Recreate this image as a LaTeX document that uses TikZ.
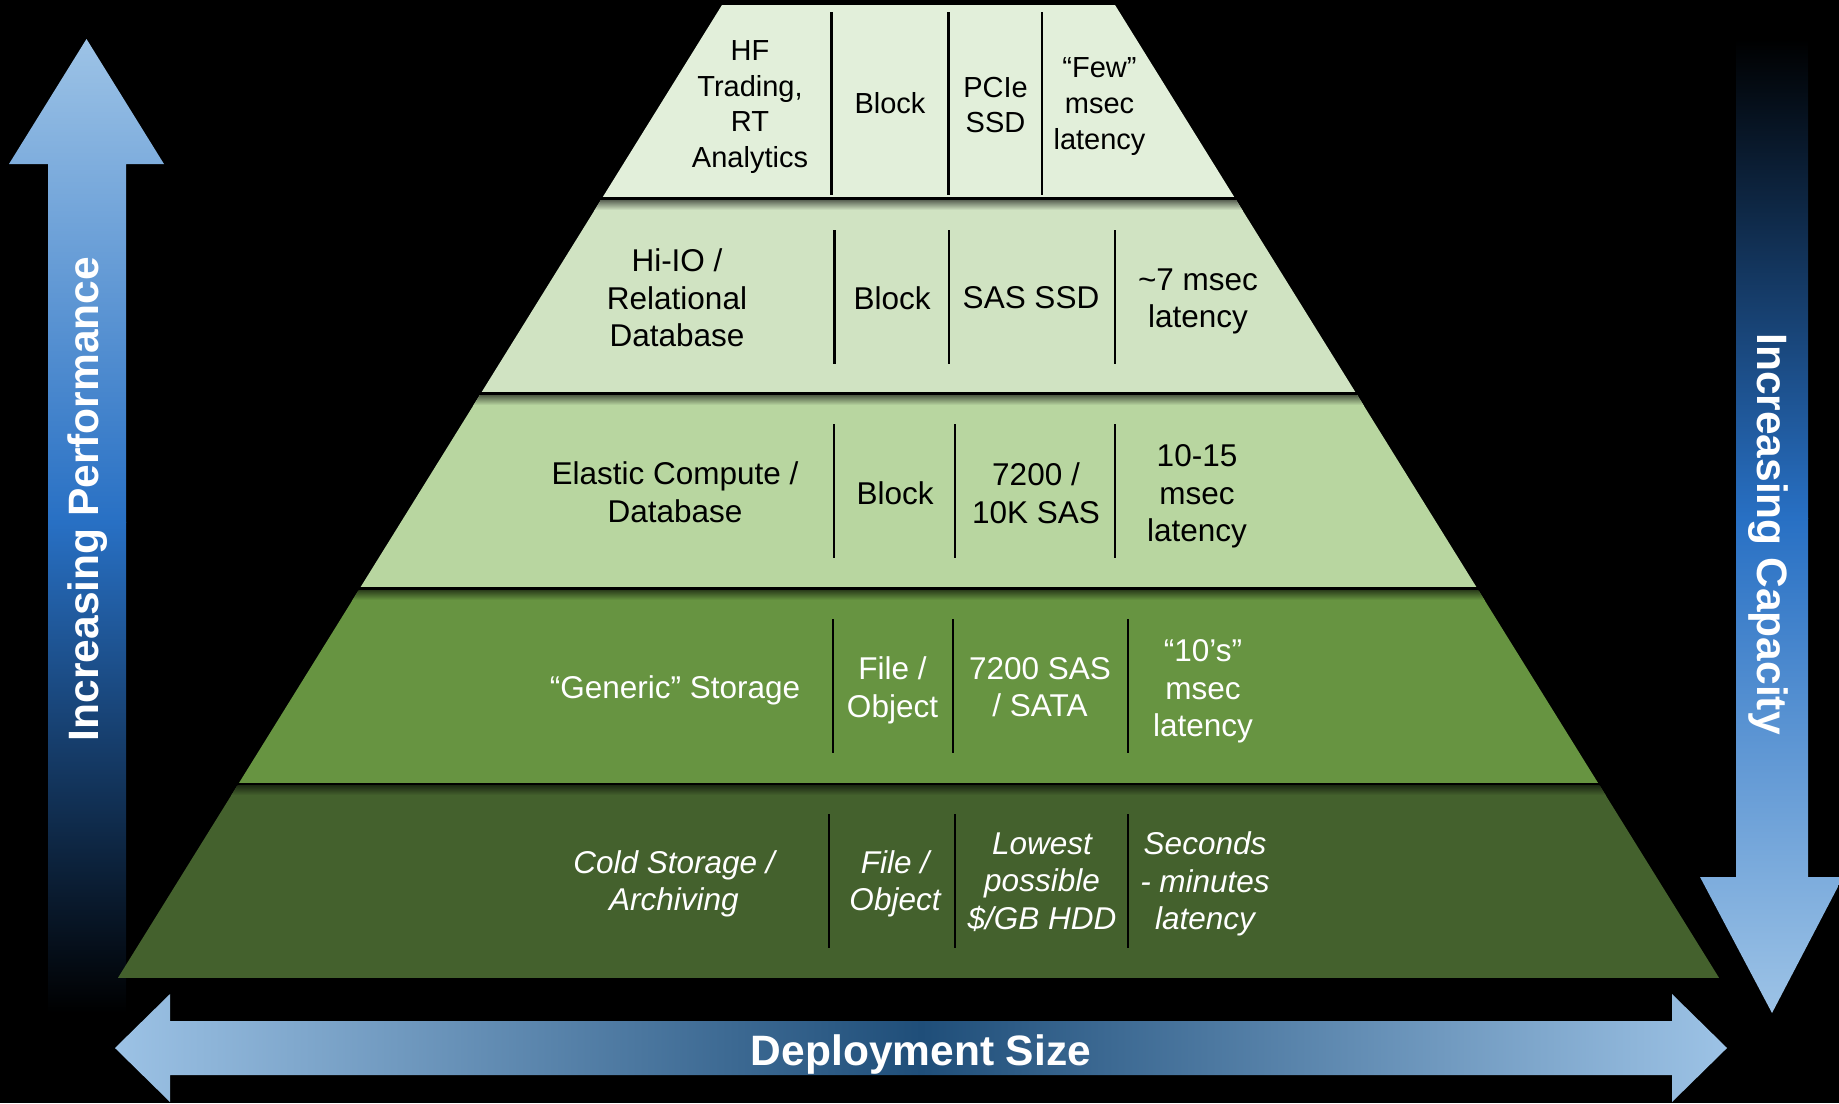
\documentclass[tikz,border=0pt]{standalone}
\usepackage{fontspec}
\setmainfont{Liberation Sans}
\definecolor{blueL}{RGB}{157,195,230}
\definecolor{blueM}{RGB}{40,112,196}
\definecolor{navy}{RGB}{31,78,121}
\definecolor{layA}{RGB}{226,239,218}
\definecolor{layB}{RGB}{208,227,194}
\definecolor{layC}{RGB}{184,214,160}
\definecolor{layD}{RGB}{103,148,65}
\definecolor{layE}{RGB}{68,97,45}
\begin{document}
\begin{tikzpicture}[x=0.5pt,y=-0.5pt,
  txtbase/.style={align=center, inner sep=0pt},
  darktxt/.style={txtbase, text=black, font=\fontsize{15.75}{18.75}\selectfont},
  darksmall/.style={txtbase, text=black, font=\fontsize{14.5}{17.9}\selectfont},
  lighttxt/.style={txtbase, text=white, font=\fontsize{15.75}{18.75}\selectfont},
  lightit/.style={txtbase, text=white, font=\fontsize{15.75}{18.75}\selectfont\itshape},
  divider/.style={line width=1.2pt, black},
  arrowlabel/.style={text=white, font=\bfseries\fontsize{21.25}{24}\selectfont, inner sep=0pt}]

\fill[black] (0,0) rectangle (1839,1103);
\useasboundingbox (0,0) rectangle (1839,1103);

% ---------- Up arrow (performance) ----------
\begin{scope}
\clip (48,1013) -- (48,164) -- (9,164) -- (86.5,39) -- (164,164) -- (126,164) -- (126,1013) -- cycle;
\shade[top color=blueL, bottom color=blueM] (0,39) rectangle (170,522);
\shade[top color=blueM, bottom color=black] (0,522) rectangle (170,1013);
\end{scope}

% ---------- Down arrow (capacity) ----------
\begin{scope}
\clip (1736,39) -- (1808,39) -- (1808,877) -- (1843,877) -- (1772,1013) -- (1700,877) -- (1736,877) -- cycle;
\shade[top color=black, bottom color=blueM] (1690,39) rectangle (1845,518);
\shade[top color=blueM, bottom color=blueL] (1690,518) rectangle (1845,1013);
\end{scope}

% ---------- Horizontal arrow (deployment) ----------
\begin{scope}
\clip (115,1048) -- (170,994) -- (170,1021) -- (1672,1021) -- (1672,994) -- (1727,1048) -- (1672,1102) -- (1672,1075) -- (170,1075) -- (170,1102) -- cycle;
\shade[left color=blueL, right color=navy] (110,990) rectangle (921,1105);
\shade[left color=navy, right color=blueL] (921,990) rectangle (1730,1105);
\end{scope}

% ---------- Pyramid ----------
\begin{scope}
\clip (722,5) -- (1115,5) -- (1719,977.8) -- (118,977.8) -- cycle;
\fill[layA] (0,5) rectangle (1839,197);
\fill[layB] (0,200.2) rectangle (1839,392.2);
\fill[layC] (0,395.4) rectangle (1839,587.4);
\fill[layD] (0,590.6) rectangle (1839,782.6);
\fill[layE] (0,785.8) rectangle (1839,977.8);
\shade[top color=layB!45!black, bottom color=layB] (0,200.2) rectangle (1839,210);
\shade[top color=layC!45!black, bottom color=layC] (0,395.4) rectangle (1839,405);
\shade[top color=layD!45!black, bottom color=layD] (0,590.6) rectangle (1839,600);
\shade[top color=layE!45!black, bottom color=layE] (0,785.8) rectangle (1839,795);
\end{scope}

\node[arrowlabel, rotate=90] (perf) at (88,499) {Increasing Performance};
\node[arrowlabel, rotate=-90] (capa) at (1768,534) {Increasing Capacity};
\node[arrowlabel] (deploy) at (921,1054) {Deployment Size};

% ---------- Layer 1 ----------
\node[darksmall] (hf) at (750,107) {HF\\Trading,\\RT\\Analytics};
\node[darksmall] (blockA) at (890,103) {Block};
\node[darksmall] (pcie) at (995.5,105) {PCIe\\SSD};
\node[darksmall] (few) at (1099.5,106.5) {“Few”\\msec\\latency};
\draw[divider] (831.5,12) -- (831.5,195);
\draw[divider] (948.6,12) -- (948.6,195);
\draw[divider] (1042,12) -- (1042,195);

% ---------- Layer 2 ----------
\node[darktxt] (hiio) at (677,298) {Hi-IO /\\Relational\\Database};
\node[darktxt] (blockB) at (892,298) {Block};
\node[darktxt] (sasssd) at (1031,298) {SAS SSD};
\node[darktxt] (latB) at (1198,301.5) {\textasciitilde7 msec\\latency};
\draw[divider] (834.5,230) -- (834.5,364);
\draw[divider] (949,230) -- (949,364);
\draw[divider] (1115,230) -- (1115,364);

% ---------- Layer 3 ----------
\node[darktxt] (elastic) at (675,492) {Elastic Compute /\\Database};
\node[darktxt] (blockC) at (895,493) {Block};
\node[darktxt] (tenk) at (1036,493) {7200 /\\10K SAS};
\node[darktxt] (latC) at (1197,496.5) {10-15\\msec\\latency};
\draw[divider] (834,424) -- (834,558);
\draw[divider] (955,424) -- (955,558);
\draw[divider] (1115,424) -- (1115,558);

% ---------- Layer 4 ----------
\node[lighttxt] (generic) at (675,690) {“Generic” Storage};
\node[lighttxt] (fileD) at (892.5,690.5) {File /\\Object};
\node[lighttxt] (sata) at (1040,687) {7200 SAS\\/ SATA};
\node[lighttxt] (latD) at (1203,691.5) {“10’s”\\msec\\latency};
\draw[divider] (833,619) -- (833,753);
\draw[divider] (953,619) -- (953,753);
\draw[divider] (1128,619) -- (1128,753);

% ---------- Layer 5 ----------
\node[lightit] (cold) at (674,884) {Cold Storage /\\Archiving};
\node[lightit] (fileE) at (895,884) {File /\\Object};
\node[lightit] (lowest) at (1042,882) {Lowest\\possible\\\$/GB HDD};
\node[lightit] (secs) at (1205,884) {Seconds\\- minutes\\latency};
\draw[divider] (829,814) -- (829,948);
\draw[divider] (955,814) -- (955,948);
\draw[divider] (1128,814) -- (1128,948);
\end{tikzpicture}
\end{document}
